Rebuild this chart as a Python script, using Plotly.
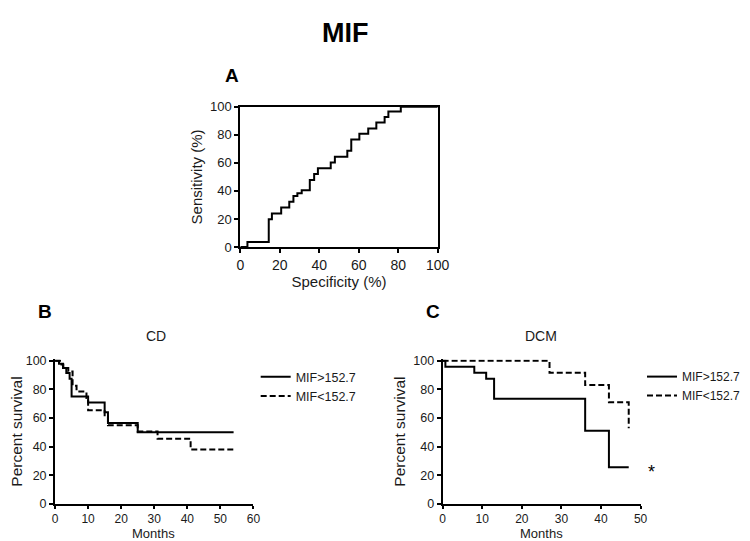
import plotly.graph_objects as go

# ---------------- data ----------------
# Panel A: ROC curve (specificity %, sensitivity %)
roc_spec = [0, 3.6, 14.4, 16.0, 20.7, 24.8, 26.9, 28.9, 31.1, 35.2, 37.4, 39.3,
            45.8, 47.9, 54.2, 56.2, 60.3, 64.8, 68.9, 73.1, 75.0, 81.3, 100]
roc_sens = [0, 3.7, 19.9, 24.0, 28.2, 32.3, 36.3, 38.4, 40.4, 47.8, 52.0, 56.1,
            60.3, 64.4, 68.6, 76.7, 80.8, 84.5, 88.7, 92.6, 96.5, 100, 100]

# Panel B: CD survival
cd_hi_months = [0, 1.2, 2.4, 3.4, 4.4, 5, 10, 15, 16, 25, 54]
cd_hi_surv = [100, 98, 95, 91.4, 87.5, 75, 70.8, 64, 56.5, 50, 50]
cd_lo_months = [0, 1.5, 2.5, 4, 5.3, 6.5, 9.5, 10, 15, 16, 25, 31, 41, 54]
cd_lo_surv = [100, 97.5, 95, 92.5, 82.5, 78.5, 74, 65.5, 61, 55, 50.5, 45.5, 37.9, 37.9]

# Panel C: DCM survival
dcm_hi_months = [0, 0.7, 8, 11, 13, 36, 42, 47]
dcm_hi_surv = [100, 95.8, 91.7, 87.5, 73.5, 51, 25.5, 25.5]
dcm_lo_months = [0, 27, 36, 42, 47]
dcm_lo_surv = [100, 91.7, 83, 71, 52.9]

series_names = ["MIF>152.7", "MIF<152.7"]
pct_ticks = [0, 20, 40, 60, 80, 100]
cd_month_ticks = [0, 10, 20, 30, 40, 50, 60]
dcm_month_ticks = [0, 10, 20, 30, 40, 50]
significance_mark = "*"
significance_level = 25

# ---------------- styling ----------------
FONT = "Liberation Sans, Arial, sans-serif"
BLACK = "#000000"
TXT = "#1a1a1a"
W, H = 750, 541


def px_x(p):
    return p / W


def px_y(p):
    return 1 - p / H


fig = go.Figure()

fig.add_trace(go.Scatter(x=roc_spec, y=roc_sens, mode="lines", line_shape="hv",
                         line=dict(color=BLACK, width=2), showlegend=False,
                         xaxis="x", yaxis="y"))

fig.add_trace(go.Scatter(x=cd_hi_months, y=cd_hi_surv, mode="lines", line_shape="hv",
                         name=series_names[0], line=dict(color=BLACK, width=2),
                         xaxis="x2", yaxis="y2", legend="legend"))
fig.add_trace(go.Scatter(x=cd_lo_months, y=cd_lo_surv, mode="lines", line_shape="hv",
                         name=series_names[1], line=dict(color=BLACK, width=2, dash="6px,3px"),
                         xaxis="x2", yaxis="y2", legend="legend"))

fig.add_trace(go.Scatter(x=dcm_hi_months, y=dcm_hi_surv, mode="lines", line_shape="hv",
                         name=series_names[0], line=dict(color=BLACK, width=2),
                         xaxis="x3", yaxis="y3", legend="legend2"))
fig.add_trace(go.Scatter(x=dcm_lo_months, y=dcm_lo_surv, mode="lines", line_shape="hv",
                         name=series_names[1], line=dict(color=BLACK, width=2, dash="6px,3px"),
                         xaxis="x3", yaxis="y3", legend="legend2"))

axis_common = dict(showline=True, linecolor=BLACK, linewidth=2, ticks="outside",
                   ticklen=4, tickwidth=1.5, tickcolor=BLACK, showgrid=False,
                   zeroline=False, tickfont=dict(family=FONT, size=12.5, color=TXT))
month_axis = dict(axis_common, ticklen=3, tickfont=dict(family=FONT, size=12, color=TXT))

roc_y0, roc_y1 = 238.7, 94.3
surv_y0, surv_y1 = 502.7, 354.2

fig.update_layout(
    width=W, height=H, margin=dict(l=0, r=0, t=0, b=0),
    paper_bgcolor="white", plot_bgcolor="white",
    xaxis=dict(axis_common, domain=[px_x(233.3), px_x(435)], range=[0, 100],
               tickvals=pct_ticks, mirror=True, anchor="y",
               tickfont=dict(family=FONT, size=14, color=TXT),
               title=dict(text="Specificity (%)", standoff=3,
                          font=dict(family=FONT, size=15, color=TXT))),
    yaxis=dict(axis_common, domain=[px_y(roc_y0), px_y(roc_y1)], range=[0, 100],
               tickvals=pct_ticks, mirror=True, anchor="x",
               tickfont=dict(family=FONT, size=13, color=TXT),
               title=dict(text="Sensitivity (%)", standoff=4,
                          font=dict(family=FONT, size=15, color=TXT))),
    xaxis2=dict(month_axis, domain=[px_x(44), px_x(246.7)], range=[0, 60],
                tickvals=cd_month_ticks, anchor="y2"),
    yaxis2=dict(axis_common, domain=[px_y(surv_y0), px_y(surv_y1)], range=[0, 101],
                tickvals=pct_ticks, anchor="x2",
                title=dict(text="Percent survival", standoff=4,
                           font=dict(family=FONT, size=15.5, color=TXT))),
    xaxis3=dict(month_axis, domain=[px_x(440), px_x(642.3)], range=[0, 50],
                tickvals=dcm_month_ticks, anchor="y3"),
    yaxis3=dict(axis_common, domain=[px_y(surv_y0), px_y(surv_y1)], range=[0, 101],
                tickvals=pct_ticks, anchor="x3",
                title=dict(text="Percent survival", standoff=4,
                           font=dict(family=FONT, size=15.5, color=TXT))),
    legend=dict(x=px_x(249), y=px_y(357), xanchor="left", yanchor="top",
                bgcolor="rgba(0,0,0,0)", borderwidth=0,
                font=dict(family=FONT, size=12.5, color=TXT)),
    legend2=dict(x=1.0, y=px_y(357), xanchor="right", yanchor="top",
                 bgcolor="rgba(0,0,0,0)", borderwidth=0,
                 font=dict(family=FONT, size=12, color=TXT)),
)

annotations = [
    dict(text="<b>MIF</b>", x=px_x(341), y=px_y(18), font=dict(family=FONT, size=27, color=BLACK)),
    dict(text="<b>A</b>", x=px_x(225), y=px_y(62), font=dict(family=FONT, size=19, color=BLACK)),
    dict(text="<b>B</b>", x=px_x(34), y=px_y(305), font=dict(family=FONT, size=19, color=BLACK)),
    dict(text="<b>C</b>", x=px_x(430), y=px_y(305), font=dict(family=FONT, size=19, color=BLACK)),
    dict(text="CD", x=px_x(147), y=px_y(330), font=dict(family=FONT, size=14, color=TXT)),
    dict(text="DCM", x=px_x(541), y=px_y(330), font=dict(family=FONT, size=14, color=TXT)),
    dict(text="Months", x=px_x(145), y=px_y(533), font=dict(family=FONT, size=13, color=TXT)),
    dict(text="Months", x=px_x(541), y=px_y(533), font=dict(family=FONT, size=13, color=TXT)),
]
for a in annotations:
    a.update(xref="paper", yref="paper", showarrow=False, xanchor="center", yanchor="middle")

annotations.append(dict(text=significance_mark, x=px_x(653), y=significance_level,
                        xref="paper", yref="y3", showarrow=False,
                        xanchor="center", yanchor="middle", yshift=-4,
                        font=dict(family=FONT, size=18, color=BLACK)))
fig.update_layout(annotations=annotations)

fig.write_html("out.html")
